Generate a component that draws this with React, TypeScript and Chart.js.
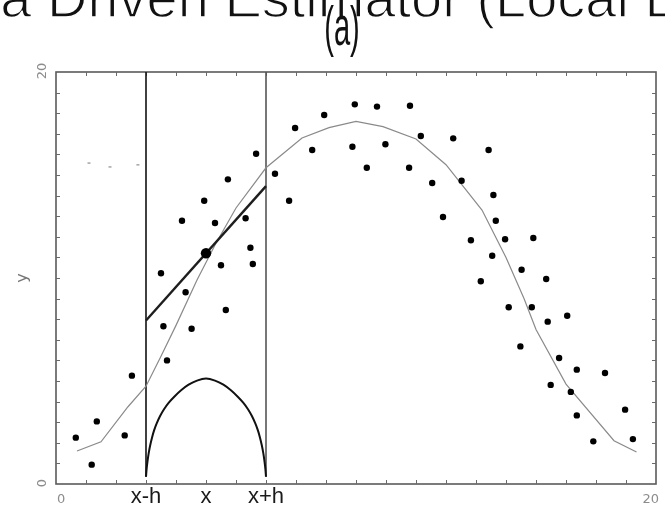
import { useEffect, useRef } from "react";
import { Chart, registerables } from "chart.js";

Chart.register(...registerables);

// Text
const TITLE = "Data Driven Estimator (Local Linear)";
const PANEL_LABEL = "(a)";
const Y_LABEL = "y";
const AXIS_MIN = 0;
const AXIS_MAX = 20;
const AXIS_TICK_LABELS = ["0", "20"];
const WINDOW_X = [3, 5, 7];
const WINDOW_LABELS = ["x-h", "x", "x+h"];

// Observed sample
const obsX = [
  0.66, 1.19, 1.36, 2.29, 2.53, 3.5, 3.58, 3.7, 4.2, 4.32, 4.52, 4.94, 5.3, 5.5, 5.66, 5.73,
  6.32, 6.48, 6.56, 6.67, 7.3, 7.77, 7.97, 8.54, 8.94, 9.88, 9.96, 10.36, 10.7, 10.98, 11.77,
  11.8, 12.16, 12.54, 12.9, 13.24, 13.52, 13.83, 14.16, 14.42, 14.54, 14.58, 14.66, 14.97,
  15.09, 15.48, 15.52, 15.86, 15.91, 16.34, 16.39, 16.49, 16.77, 17.04, 17.16, 17.36, 17.36,
  17.91, 18.3, 18.97, 19.23,
];
const obsY = [
  2.25, 0.94, 3.04, 2.36, 5.26, 10.23, 7.66, 6.0, 12.78, 9.31, 7.54, 13.75, 12.67, 10.62, 8.45,
  14.79, 12.9, 11.47, 10.68, 16.03, 15.06, 13.75, 17.28, 16.21, 17.91, 16.37, 18.43, 15.35,
  18.32, 16.49, 15.35, 18.36, 16.89, 14.61, 12.96, 16.78, 14.72, 11.83, 9.84, 16.21, 11.08,
  14.03, 12.78, 11.88, 8.58, 6.68, 10.4, 8.58, 11.94, 9.95, 7.88, 4.81, 6.12, 8.17, 4.47, 5.55,
  3.33, 2.07, 5.39, 3.61, 2.18,
];

// Fitted regression curve
const fitX = [
  0.7, 1.5, 2.4, 3.0, 3.5, 4.0, 4.7, 5.3, 6.0, 7.0, 8.2, 9.1, 10.0, 10.9, 12.0, 13.0, 14.2,
  15.0, 15.6, 16.0, 17.0, 18.6, 19.35,
];
const fitY = [
  1.6, 2.05, 3.75, 4.75, 6.2, 7.7, 9.9, 11.6, 13.4, 15.35, 16.8, 17.3, 17.6, 17.35, 16.75,
  15.5, 13.3, 11.0, 9.0, 7.5, 4.85, 2.1, 1.55,
];

// Local estimate at x and its local linear fit
const estX = [5];
const estY = [11.2];
const localX = [3, 7];
const localY = [7.94, 14.46];

// Kernel weights over the window
const kernelX = [
  3.0, 3.02, 3.05, 3.09, 3.14, 3.2, 3.27, 3.36, 3.47, 3.6, 3.76, 3.95, 4.17, 4.42, 4.7, 5.0,
  5.3, 5.58, 5.83, 6.05, 6.24, 6.4, 6.53, 6.64, 6.73, 6.8, 6.86, 6.91, 6.95, 6.98, 7.0,
];
const kernelY = [
  0.35, 0.72, 1.1, 1.5, 1.88, 2.25, 2.6, 2.95, 3.3, 3.63, 3.95, 4.25, 4.55, 4.82, 5.02, 5.12,
  5.02, 4.82, 4.55, 4.25, 3.95, 3.63, 3.3, 2.95, 2.6, 2.25, 1.88, 1.5, 1.1, 0.72, 0.35,
];

// Window edges
const edgeSpan = [0.35, 20];

// Stray marks
const strayX = [1.1, 1.8, 2.73];
const strayY = [15.58, 15.39, 15.49];

const zip = (xs: number[], ys: number[]) => xs.map((v, i) => ({ x: v, y: ys[i] }));

const framePlugin = {
  id: "frame",
  beforeDatasetsDraw(chart: any) {
    const { ctx, chartArea: a, scales } = chart;
    const sx = scales.x;
    const sy = scales.y;
    ctx.save();
    ctx.strokeStyle = "#5a5a5a";
    ctx.lineWidth = 1.6;
    ctx.strokeRect(a.left, a.top, a.right - a.left, a.bottom - a.top);
    ctx.lineWidth = 1;
    ctx.strokeStyle = "#6a6a6a";
    const t = 4;
    ctx.beginPath();
    for (let v = AXIS_MIN + 1; v < AXIS_MAX; v++) {
      const px = Math.round(sx.getPixelForValue(v)) + 0.5;
      const py = Math.round(sy.getPixelForValue(v)) + 0.5;
      ctx.moveTo(px, a.bottom);
      ctx.lineTo(px, a.bottom - t);
      ctx.moveTo(px, a.top);
      ctx.lineTo(px, a.top + t);
      ctx.moveTo(a.left, py);
      ctx.lineTo(a.left + t, py);
      ctx.moveTo(a.right, py);
      ctx.lineTo(a.right - t, py);
    }
    ctx.stroke();
    ctx.restore();
  },
  afterDraw(chart: any) {
    const { ctx, chartArea: a, scales } = chart;
    const sx = scales.x;
    const sy = scales.y;
    ctx.save();

    // Axis end labels
    ctx.fillStyle = "#8c8c8c";
    ctx.font = "13px 'DejaVu Sans'";
    ctx.textBaseline = "alphabetic";
    ctx.textAlign = "left";
    ctx.fillText(AXIS_TICK_LABELS[0], sx.getPixelForValue(AXIS_MIN) + 1, a.bottom + 19);
    ctx.textAlign = "right";
    ctx.fillText(AXIS_TICK_LABELS[1], sx.getPixelForValue(AXIS_MAX) + 3, a.bottom + 19);

    const yLabels: [string, number][] = [
      [AXIS_TICK_LABELS[0], sy.getPixelForValue(AXIS_MIN)],
      [AXIS_TICK_LABELS[1], sy.getPixelForValue(AXIS_MAX)],
    ];
    for (const [s, py] of yLabels) {
      ctx.save();
      ctx.translate(a.left - 10, py - 1);
      ctx.rotate(-Math.PI / 2);
      ctx.textAlign = "center";
      ctx.fillText(s, 0, 0);
      ctx.restore();
    }

    // y axis title
    ctx.save();
    ctx.fillStyle = "#777";
    ctx.font = "16px 'DejaVu Sans'";
    ctx.translate(27, (a.top + a.bottom) / 2);
    ctx.rotate(-Math.PI / 2);
    ctx.textAlign = "center";
    ctx.fillText(Y_LABEL, 0, 0);
    ctx.restore();

    // Window labels under the axis
    ctx.fillStyle = "#1a1a1a";
    ctx.font = "22px 'Liberation Sans'";
    ctx.textAlign = "center";
    WINDOW_X.forEach((v, i) => {
      ctx.fillText(WINDOW_LABELS[i], sx.getPixelForValue(v), a.bottom + 19);
    });

    // Main title, with a thin white outline to lighten the strokes
    ctx.font = "56px 'Liberation Sans'";
    ctx.textAlign = "left";
    const lead = ctx.measureText("Data ").width;
    const tx = 47 - lead;
    ctx.fillStyle = "#111";
    ctx.fillText(TITLE, tx, 17);
    ctx.strokeStyle = "#fff";
    ctx.lineWidth = 1.4;
    ctx.lineJoin = "round";
    ctx.strokeText(TITLE, tx, 17);

    // Panel label in a condensed face
    ctx.save();
    ctx.translate(342, 45);
    ctx.scale(0.52, 1);
    ctx.fillStyle = "#111";
    ctx.font = "56px 'Liberation Sans'";
    ctx.textAlign = "center";
    ctx.fillText(PANEL_LABEL, 0, 0);
    ctx.restore();

    ctx.restore();
  },
};

export default function App() {
  const ref = useRef<HTMLCanvasElement | null>(null);

  useEffect(() => {
    document.body.style.margin = "0";
    const canvas = ref.current;
    if (!canvas) return;
    const chart = new Chart(canvas, {
      type: "scatter",
      data: {
        datasets: [
          {
            label: "estimate",
            data: zip(estX, estY),
            pointRadius: 5.2,
            pointBackgroundColor: "#000",
            pointBorderWidth: 0,
            showLine: false,
          },
          {
            label: "observed",
            data: zip(obsX, obsY),
            pointRadius: 3.2,
            pointBackgroundColor: "#000",
            pointBorderWidth: 0,
            showLine: false,
          },
          {
            label: "stray",
            data: zip(strayX, strayY),
            pointStyle: "line",
            pointRadius: 1.5,
            pointBorderColor: "#777",
            pointBorderWidth: 1,
            showLine: false,
          },
          {
            label: "local fit",
            data: zip(localX, localY),
            showLine: true,
            borderColor: "#1e1e1e",
            borderWidth: 2.4,
            pointRadius: 0,
          },
          {
            label: "fit",
            data: zip(fitX, fitY),
            showLine: true,
            borderColor: "#8a8a8a",
            borderWidth: 1.2,
            pointRadius: 0,
          },
          {
            label: "kernel",
            data: zip(kernelX, kernelY),
            showLine: true,
            borderColor: "#111",
            borderWidth: 2,
            pointRadius: 0,
            tension: 0.2,
          },
          {
            label: "x-h",
            data: zip([WINDOW_X[0], WINDOW_X[0]], edgeSpan),
            showLine: true,
            borderColor: "#111",
            borderWidth: 1.6,
            pointRadius: 0,
          },
          {
            label: "x+h",
            data: zip([WINDOW_X[2], WINDOW_X[2]], edgeSpan),
            showLine: true,
            borderColor: "#555",
            borderWidth: 1.6,
            pointRadius: 0,
          },
        ],
      },
      options: {
        responsive: false,
        animation: false,
        layout: { padding: { left: 56, right: 9, top: 72, bottom: 24 } },
        plugins: {
          legend: { display: false },
          tooltip: { enabled: false },
          title: { display: false },
        },
        scales: {
          x: { type: "linear", min: AXIS_MIN, max: AXIS_MAX, display: false },
          y: { type: "linear", min: AXIS_MIN, max: AXIS_MAX, display: false },
        },
      },
      plugins: [framePlugin],
    });
    return () => chart.destroy();
  }, []);

  return (
    <div style={{ position: "absolute", left: 0, top: 0, width: 665, height: 508, background: "#fff" }}>
      <canvas ref={ref} width={665} height={508} />
    </div>
  );
}
